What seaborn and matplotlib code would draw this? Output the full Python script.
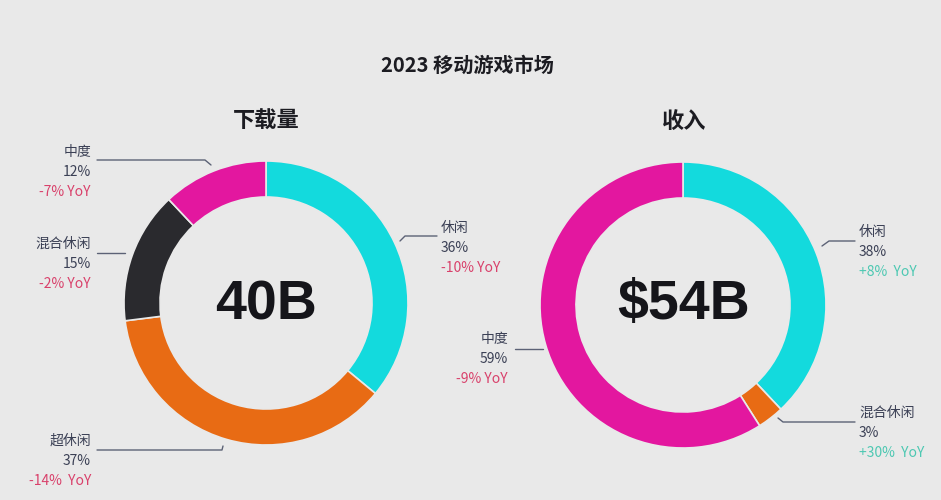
import matplotlib
matplotlib.use("Agg")
import matplotlib.pyplot as plt
import seaborn as sns

# data
title = "2023 移动游戏市场"
dl_title = "下载量"
dl_total = "40B"
dl_labels = ["休闲", "超休闲", "混合休闲", "中度"]
dl_share = [36, 37, 15, 12]
dl_yoy = ["-10% YoY", "-14%  YoY", "-2% YoY", "-7% YoY"]

rev_title = "收入"
rev_total = "$54B"
rev_labels = ["休闲", "混合休闲", "中度"]
rev_share = [38, 3, 59]
rev_yoy = ["+8%  YoY", "+30%  YoY", "-9% YoY"]

cyan, orange, dark, magenta = "#13dadd", "#e86b14", "#2a2a2e", "#e3179f"
dl_colors = [cyan, orange, dark, magenta]
rev_colors = [cyan, orange, magenta]
bg = "#e9e9e9"
text_c = "#3b4055"
line_c = "#5c6276"
neg_c = "#d9416b"
pos_c = "#4dc8b2"

sns.set_theme(style="white", rc={"figure.facecolor": bg, "axes.facecolor": bg})
plt.rcParams["font.family"] = ["Noto Sans CJK SC", "DejaVu Sans"]

fig = plt.figure(figsize=(9.41, 5.0), dpi=100)
ax = fig.add_axes([0, 0, 1, 1])


def Y(y):
    # image pixel row -> data y
    return 500 - y


def donut(vals, cols, cx, cy, r):
    ax.pie(vals, colors=cols, startangle=90, counterclock=False,
           center=(cx, Y(cy)), radius=r,
           wedgeprops=dict(width=36, edgecolor=bg, linewidth=1.2))


donut(dl_share, dl_colors, 266, 303, 142)
donut(rev_share, rev_colors, 683, 305, 143)
ax.set_xlim(0, 941)
ax.set_ylim(0, 500)
ax.set_aspect("equal")
ax.axis("off")

ax.text(467, Y(65), title, ha="center", va="center", fontsize=14.5, fontweight="bold", color="#1c1c22")
ax.text(266, Y(121), dl_title, ha="center", va="center", fontsize=16, fontweight="bold", color="#1c1c22")
ax.text(684, Y(121), rev_title, ha="center", va="center", fontsize=16, fontweight="bold", color="#1c1c22")
for x, y, s in [(266, 305, dl_total), (684, 305, rev_total)]:
    ax.text(x, Y(y), s, ha="center", va="center", fontsize=40, fontweight="bold",
            color="#15151a", family="Liberation Sans")


def label(x, y, name, share, yoy, ha):
    ax.text(x, Y(y), name, ha=ha, va="center", fontsize=10, color=text_c)
    ax.text(x, Y(y + 20), f"{share}%", ha=ha, va="center", fontsize=10, color=text_c)
    ax.text(x, Y(y + 40), yoy, ha=ha, va="center", fontsize=10,
            color=pos_c if yoy.startswith("+") else neg_c)


def leader(xs, ys):
    ax.plot(xs, [Y(v) for v in ys], color=line_c, lw=1)


# label positions (image pixel coords)
dl_pos = {"休闲": (441, 228, "left"), "超休闲": (91, 441, "right"),
          "混合休闲": (91, 244, "right"), "中度": (91, 152, "right")}
rev_pos = {"休闲": (859, 232, "left"), "混合休闲": (859, 413, "left"), "中度": (508, 339, "right")}

for n, s, yy in zip(dl_labels, dl_share, dl_yoy):
    x, y, ha = dl_pos[n]
    label(x, y, n, s, yy, ha)
for n, s, yy in zip(rev_labels, rev_share, rev_yoy):
    x, y, ha = rev_pos[n]
    label(x, y, n, s, yy, ha)

leader([97, 205, 211], [160, 160, 165])
leader([97, 125], [253, 253])
leader([97, 222, 223], [450, 450, 446])
leader([437, 405, 400], [236, 236, 241])
leader([515, 543], [349, 349])
leader([855, 829, 822], [241, 241, 246])
leader([855, 783, 778], [422, 422, 418])

fig.savefig("out.png", dpi=100, facecolor=bg)
